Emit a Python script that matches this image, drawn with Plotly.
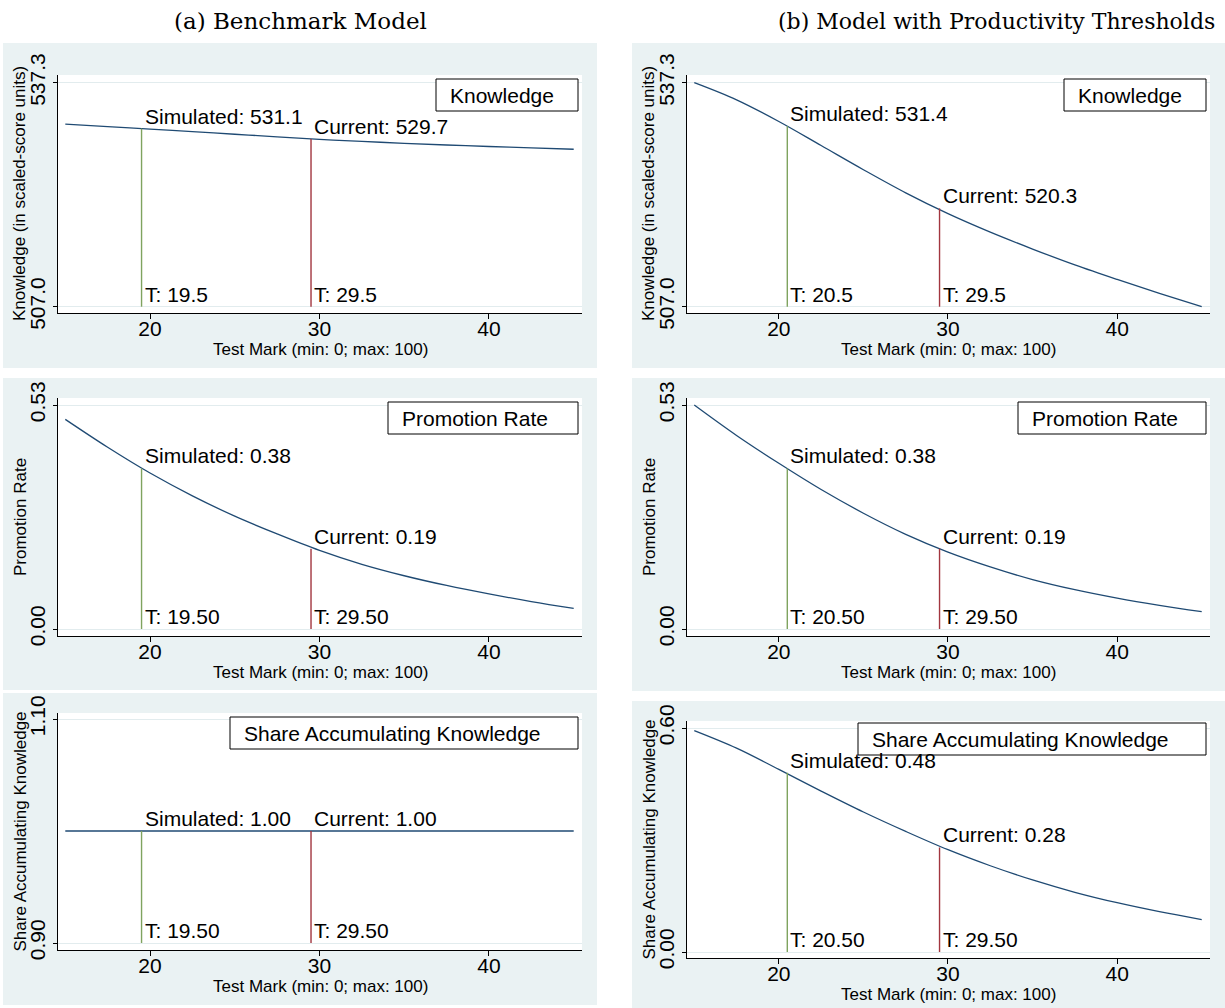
import plotly.graph_objects as go

W, H = 1225, 1008
FONT = "Liberation Sans, Arial, Helvetica, sans-serif"
SERIF = "DejaVu Serif, serif"
BG = "#EAF2F3"
GRID = "#E2ECEE"
NAVY = "#1f4a73"
GREEN = "#7fa35f"
MAROON = "#a2363f"

# ---------------- data ----------------
test_mark = [15, 17.5, 20, 22.5, 25, 27.5, 30, 32.5, 35, 37.5, 40, 42.5, 45]

knowledge_a = [531.70, 531.36, 531.03, 530.68, 530.33, 529.98, 529.64, 529.36, 529.10, 528.87, 528.67, 528.48, 528.30]
knowledge_b = [537.30, 534.98, 532.05, 528.80, 525.53, 522.40, 519.58, 517.08, 514.80, 512.65, 510.68, 508.80, 507.00]
promotion_a = [0.496, 0.430, 0.369, 0.315, 0.267, 0.225, 0.186, 0.153, 0.126, 0.103, 0.083, 0.065, 0.049]
promotion_b = [0.530, 0.458, 0.392, 0.330, 0.274, 0.224, 0.182, 0.147, 0.117, 0.093, 0.073, 0.056, 0.041]
share_a = [1.00, 1.00, 1.00, 1.00, 1.00, 1.00, 1.00, 1.00, 1.00, 1.00, 1.00, 1.00, 1.00]
share_b = [0.593, 0.546, 0.489, 0.431, 0.375, 0.323, 0.274, 0.231, 0.193, 0.160, 0.132, 0.108, 0.087]

threshold_simulated_a = 19.5
threshold_simulated_b = 20.5
threshold_current = 29.5

simulated_a = [531.1, 0.38, 1.00]
current_a = [529.7, 0.19, 1.00]
simulated_b = [531.4, 0.38, 0.48]
current_b = [520.3, 0.19, 0.28]

ytick_knowledge = [507.0, 537.3]
ytick_promotion = [0.00, 0.53]
ytick_share_a = [0.90, 1.10]
ytick_share_b = [0.00, 0.60]
xtick_vals = [20, 30, 40]
x_range = [14.57, 45.49]

panel_titles = ["(a) Benchmark Model", "(b) Model with Productivity Thresholds"]
measure_names = ["Knowledge", "Promotion Rate", "Share Accumulating Knowledge"]
y_titles = ["Knowledge (in scaled-score units)", "Promotion Rate", "Share Accumulating Knowledge"]
x_title = "Test Mark (min: 0; max: 100)"

# ---------------- panel layout (pixels) ----------------
panels = [
    dict(y=knowledge_a, thr=(threshold_simulated_a, threshold_current), vals=(simulated_a[0], current_a[0]),
         ticks=ytick_knowledge, fmt="{:.1f}", row=0,
         area=(58, 582, 75, 313), pad=(7.7, 6.3), bg=(3, 597, 43, 368), box_left=436, box_top=79),
    dict(y=knowledge_b, thr=(threshold_simulated_b, threshold_current), vals=(simulated_b[0], current_b[0]),
         ticks=ytick_knowledge, fmt="{:.1f}", row=0,
         area=(687, 1210, 75, 313), pad=(7.7, 6.3), bg=(632, 1225, 43, 368), box_left=1064, box_top=79),
    dict(y=promotion_a, thr=(threshold_simulated_a, threshold_current), vals=(simulated_a[1], current_a[1]),
         ticks=ytick_promotion, fmt="{:.2f}", row=1,
         area=(58, 582, 398, 636), pad=(7, 7), bg=(3, 597, 378, 690), box_left=388, box_top=402),
    dict(y=promotion_b, thr=(threshold_simulated_b, threshold_current), vals=(simulated_b[1], current_b[1]),
         ticks=ytick_promotion, fmt="{:.2f}", row=1,
         area=(687, 1210, 398, 636), pad=(7, 7), bg=(632, 1225, 378, 691), box_left=1018, box_top=402),
    dict(y=share_a, thr=(threshold_simulated_a, threshold_current), vals=(simulated_a[2], current_a[2]),
         ticks=ytick_share_a, fmt="{:.2f}", row=2,
         area=(58, 582, 713, 950), pad=(6, 7), bg=(3, 597, 693, 1005), box_left=230, box_top=717),
    dict(y=share_b, thr=(threshold_simulated_b, threshold_current), vals=(simulated_b[2], current_b[2]),
         ticks=ytick_share_b, fmt="{:.2f}", row=2,
         area=(687, 1210, 721, 958), pad=(7, 6), bg=(632, 1225, 701, 1008), box_left=858, box_top=723),
]

fig = go.Figure()
shapes = []
annotations = []
layout_axes = {}


def px(x):
    return x / W


def py(y):
    return 1 - y / H


for p in panels:
    l, r, t, b = p["bg"]
    shapes.append(dict(type="rect", xref="paper", yref="paper", x0=px(l), x1=px(r), y0=py(b), y1=py(t),
                       fillcolor=BG, line=dict(width=0), layer="below"))
for p in panels:
    l, r, t, b = p["area"]
    shapes.append(dict(type="rect", xref="paper", yref="paper", x0=px(l), x1=px(r), y0=py(b), y1=py(t),
                       fillcolor="white", line=dict(width=0), layer="below"))

for i, p in enumerate(panels):
    n = "" if i == 0 else str(i + 1)
    xid, yid = "x" + n, "y" + n
    l, r, t, b = p["area"]
    pad_t, pad_b = p["pad"]
    tmin, tmax = p["ticks"]
    ppu = ((b - t) - pad_t - pad_b) / (tmax - tmin)
    yr = [tmin - pad_b / ppu, tmax + pad_t / ppu]

    layout_axes["xaxis" + n] = dict(
        domain=[px(l), px(r)], range=x_range, anchor=yid, tickvals=xtick_vals,
        ticks="outside", ticklen=5, tickcolor="black", tickwidth=1, automargin=False,
        ticklabelstandoff=-8,
        showline=True, linecolor="black", linewidth=1, showgrid=False, zeroline=False,
        tickfont=dict(family=FONT, size=21, color="black"), fixedrange=True)
    layout_axes["yaxis" + n] = dict(
        domain=[py(b), py(t)], range=yr, anchor=xid, tickvals=p["ticks"],
        ticktext=[p["fmt"].format(v) for v in p["ticks"]], tickangle=-90, automargin=False,
        ticks="outside", ticklen=4, tickcolor="black", tickwidth=1,
        showline=True, linecolor="black", linewidth=1, showgrid=True, gridcolor=GRID, gridwidth=1,
        zeroline=False, tickfont=dict(family=FONT, size=21, color="black"), fixedrange=True)

    fig.add_trace(go.Scatter(x=test_mark, y=p["y"], mode="lines", line=dict(color=NAVY, width=1.3, shape="spline"),
                             xaxis=xid, yaxis=yid, showlegend=False, hoverinfo="skip"))
    for thr, val, col in zip(p["thr"], p["vals"], (GREEN, MAROON)):
        fig.add_trace(go.Scatter(x=[thr, thr], y=[tmin, val], mode="lines", line=dict(color=col, width=1.4),
                                 xaxis=xid, yaxis=yid, showlegend=False, hoverinfo="skip"))
    for thr, val, name in zip(p["thr"], p["vals"], ("Simulated", "Current")):
        annotations.append(dict(x=thr, y=val, xref=xid, yref=yid, text=f"{name}: {p['fmt'].format(val)}",
                                showarrow=False, xanchor="left", yanchor="bottom", xshift=1, yshift=-1,
                                font=dict(family=FONT, size=21, color="black")))
        annotations.append(dict(x=thr, y=tmin, xref=xid, yref=yid, text=f"T: {p['fmt'].format(thr)}",
                                showarrow=False, xanchor="left", yanchor="bottom", xshift=1, yshift=-1,
                                font=dict(family=FONT, size=21, color="black")))

    bl, bt = p["box_left"], p["box_top"]
    br, bb = r - 4, bt + 32
    shapes.append(dict(type="rect", xref="paper", yref="paper", x0=px(bl), x1=px(br), y0=py(bb), y1=py(bt),
                       fillcolor="white", line=dict(color="black", width=1), layer="above"))
    annotations.append(dict(x=px(bl + 12), y=py((bt + bb) / 2), xref="paper", yref="paper",
                            text=measure_names[p["row"]], showarrow=False, xanchor="left", yanchor="middle",
                            font=dict(family=FONT, size=21, color="black")))

    annotations.append(dict(x=px(l - 38), y=py((t + b) / 2), xref="paper", yref="paper", text=y_titles[p["row"]],
                            textangle=-90, showarrow=False, xanchor="center", yanchor="middle",
                            font=dict(family=FONT, size=17, color="black")))
    annotations.append(dict(x=px((l + r) / 2), y=py(b + 36), xref="paper", yref="paper", text=x_title,
                            showarrow=False, xanchor="center", yanchor="middle",
                            font=dict(family=FONT, size=17, color="black")))

for txt, cx, fs in zip(panel_titles, (300, 996), (23, 22)):
    annotations.append(dict(x=px(cx), y=py(21), xref="paper", yref="paper", text=txt, showarrow=False,
                            xanchor="center", yanchor="middle", font=dict(family=SERIF, size=fs, color="black")))

fig.update_layout(width=W, height=H, autosize=False,
                  margin=dict(l=0, r=0, t=0, b=0, pad=0, autoexpand=False),
                  paper_bgcolor="white", plot_bgcolor="rgba(0,0,0,0)", showlegend=False,
                  shapes=shapes, annotations=annotations, **layout_axes)

fig.write_html("out.html", config={"displayModeBar": False})
